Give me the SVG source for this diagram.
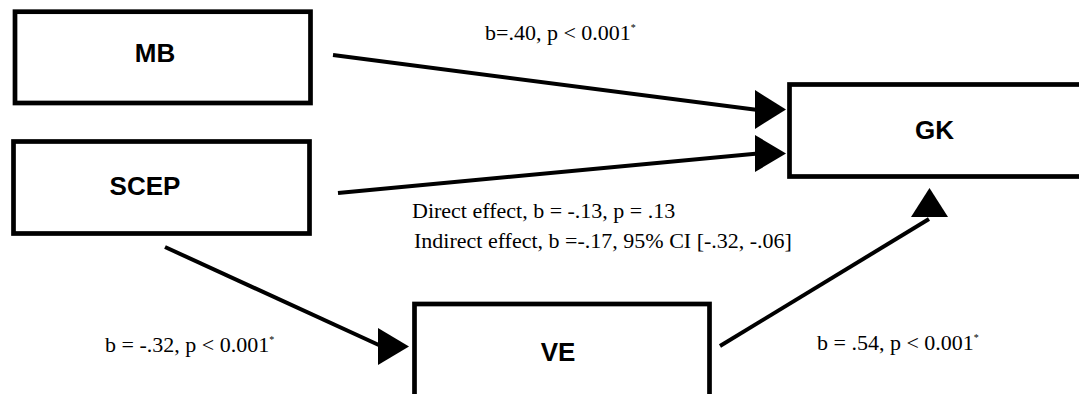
<svg xmlns="http://www.w3.org/2000/svg" width="1079" height="394" viewBox="0 0 1079 394">
  <style>
    .box { fill: #ffffff; stroke: #000000; stroke-width: 4.7; }
    .nodetext { font-family: "Liberation Sans", Arial, sans-serif; font-weight: bold; font-size: 26px; fill: #000000; text-anchor: middle; }
    .lbl { font-family: "Liberation Serif", "Times New Roman", serif; font-size: 22px; fill: #000000; }
    .sup { font-size: 10px; }
    .edge { stroke: #000000; stroke-width: 4; fill: none; }
    .head { fill: #000000; stroke: none; }
  </style>
  <rect x="0" y="0" width="1079" height="394" fill="#ffffff"/>

  <g id="connectors">
    <line class="edge" x1="333" y1="55" x2="758" y2="110"/>
    <polygon class="head" points="755,90 786,109.5 755,129"/>
    <line class="edge" x1="338" y1="193" x2="758" y2="153.5"/>
    <polygon class="head" points="755,135 786,153.5 755,172"/>
    <line class="edge" x1="165" y1="247" x2="381" y2="346"/>
    <polygon class="head" points="378,328 409,346.5 378,365"/>
    <line class="edge" x1="720" y1="346" x2="929" y2="219"/>
    <polygon class="head" points="911,217 929.5,188 948,217"/>
  </g>

  <g id="node-MB">
    <rect class="box" x="15" y="11.7" width="295.5" height="91.3"/>
    <text class="nodetext" x="155" y="62">MB</text>
  </g>
  <g id="node-SCEP">
    <rect class="box" x="13.5" y="141.5" width="296" height="92"/>
    <text class="nodetext" x="145" y="195">SCEP</text>
  </g>
  <g id="node-GK">
    <rect class="box" x="789.5" y="84.5" width="320" height="92"/>
    <text class="nodetext" x="934.5" y="139">GK</text>
  </g>
  <g id="node-VE">
    <rect class="box" x="414.5" y="304" width="295" height="120"/>
    <text class="nodetext" x="558" y="361">VE</text>
  </g>

  <g id="labels">
    <text class="lbl" x="485" y="40">b=.40, p &lt; 0.001<tspan class="sup" dy="-9">*</tspan></text>
    <text class="lbl" x="412" y="218">Direct effect, b = -.13, p = .13</text>
    <text class="lbl" x="414" y="248">Indirect effect, b =-.17, 95% CI [-.32, -.06]</text>
    <text class="lbl" x="105" y="352">b = -.32, p &lt; 0.001<tspan class="sup" dy="-9">*</tspan></text>
    <text class="lbl" x="817" y="350">b = .54, p &lt; 0.001<tspan class="sup" dy="-9">*</tspan></text>
  </g>
</svg>
